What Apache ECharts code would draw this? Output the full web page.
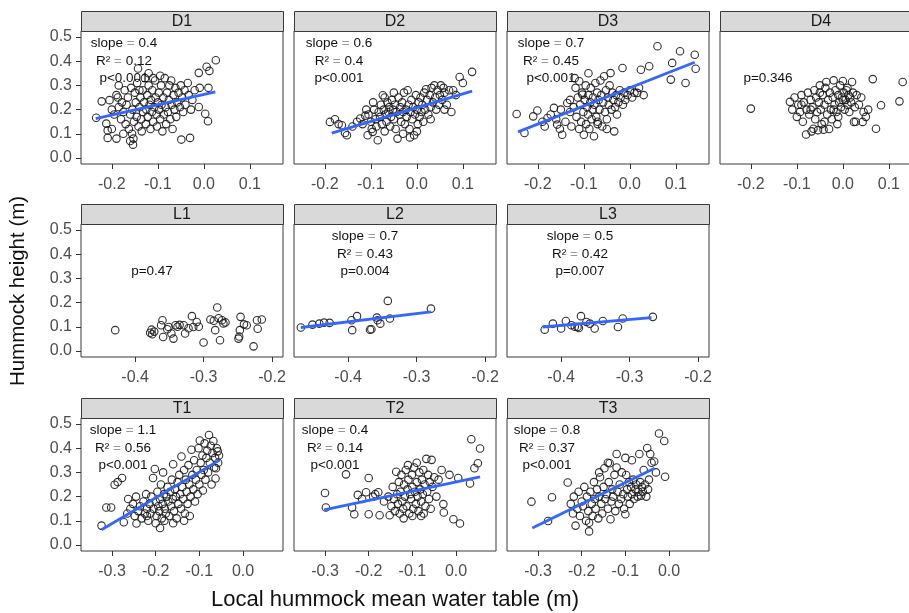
<!DOCTYPE html>
<html><head><meta charset="utf-8">
<script src="https://cdn.jsdelivr.net/npm/echarts@6/dist/echarts.min.js"></script>
<style>html,body{margin:0;padding:0;background:#fff}#c{width:909px;height:613px}</style>
</head><body><div id="c"></div>
<script>
// ---------------- DATA ----------------
const xTitle = 'Local hummock mean water table (m)';
const yTitle = 'Hummock height (m)';
const panelNames = ['D1','D2','D3','D4','L1','L2','L3','T1','T2','T3'];
const xTicksD = [-0.2,-0.1,0.0,0.1];
const xTicksL = [-0.4,-0.3,-0.2];
const xTicksT = [-0.3,-0.2,-0.1,0.0];
const yTicks = [0.0,0.1,0.2,0.3,0.4,0.5];

const d1Points = [[-0.234,0.166],[-0.222,0.234],[-0.205,0.239],[-0.212,0.142],[-0.209,0.114],[-0.209,0.083],[-0.2,0.2],[-0.195,0.18],[-0.19,0.26],[-0.187,0.25],[-0.185,0.21],[-0.18,0.16],[-0.178,0.23],[-0.175,0.19],[-0.172,0.28],[-0.17,0.14],[-0.168,0.22],[-0.165,0.25],[-0.163,0.12],[-0.16,0.18],[-0.158,0.29],[-0.156,0.1],[-0.155,0.2],[-0.154,0.055],[-0.153,0.08],[-0.152,0.15],[-0.15,0.27],[-0.148,0.23],[-0.146,0.17],[-0.145,0.31],[-0.143,0.37],[-0.142,0.13],[-0.14,0.21],[-0.138,0.25],[-0.136,0.16],[-0.135,0.11],[-0.133,0.28],[-0.132,0.19],[-0.13,0.23],[-0.128,0.33],[-0.126,0.14],[-0.125,0.2],[-0.123,0.26],[-0.122,0.17],[-0.12,0.3],[-0.118,0.22],[-0.116,0.12],[-0.115,0.24],[-0.113,0.19],[-0.112,0.28],[-0.11,0.15],[-0.108,0.21],[-0.106,0.32],[-0.105,0.25],[-0.103,0.18],[-0.102,0.13],[-0.1,0.23],[-0.098,0.27],[-0.097,0.2],[-0.095,0.16],[-0.093,0.3],[-0.092,0.22],[-0.09,0.11],[-0.088,0.25],[-0.087,0.18],[-0.085,0.33],[-0.083,0.21],[-0.082,0.14],[-0.08,0.27],[-0.078,0.19],[-0.076,0.24],[-0.075,0.3],[-0.073,0.16],[-0.071,0.32],[-0.07,0.22],[-0.068,0.12],[-0.066,0.26],[-0.064,0.2],[-0.062,0.29],[-0.06,0.17],[-0.058,0.23],[-0.055,0.27],[-0.052,0.21],[-0.05,0.3],[-0.049,0.076],[-0.047,0.25],[-0.045,0.19],[-0.042,0.28],[-0.04,0.22],[-0.035,0.31],[-0.033,0.26],[-0.03,0.083],[-0.028,0.2],[-0.025,0.24],[-0.02,0.28],[-0.011,0.352],[-0.009,0.29],[-0.011,0.211],[0.003,0.183],[0.006,0.377],[0.009,0.152],[0.01,0.29],[0.012,0.36],[0.026,0.404],[-0.19,0.08],[-0.2,0.12],[-0.175,0.1],[-0.16,0.07],[-0.185,0.3],[-0.14,0.28],[-0.12,0.35],[-0.11,0.33],[-0.095,0.34]];
const d2Points = [[-0.189,0.149],[-0.178,0.16],[-0.17,0.14],[-0.163,0.135],[-0.156,0.103],[-0.152,0.094],[-0.14,0.13],[-0.13,0.15],[-0.123,0.163],[-0.118,0.14],[-0.112,0.175],[-0.107,0.094],[-0.105,0.18],[-0.1,0.15],[-0.098,0.12],[-0.096,0.108],[-0.093,0.2],[-0.09,0.16],[-0.088,0.13],[-0.085,0.073],[-0.083,0.19],[-0.08,0.17],[-0.078,0.22],[-0.076,0.14],[-0.074,0.259],[-0.072,0.2],[-0.07,0.11],[-0.068,0.18],[-0.066,0.15],[-0.064,0.23],[-0.062,0.19],[-0.06,0.21],[-0.058,0.13],[-0.056,0.17],[-0.054,0.24],[-0.052,0.2],[-0.05,0.16],[-0.048,0.22],[-0.046,0.12],[-0.044,0.19],[-0.042,0.08],[-0.04,0.25],[-0.038,0.18],[-0.036,0.21],[-0.034,0.15],[-0.032,0.23],[-0.03,0.19],[-0.028,0.27],[-0.026,0.14],[-0.024,0.2],[-0.022,0.17],[-0.02,0.28],[-0.018,0.22],[-0.016,0.12],[-0.014,0.19],[-0.012,0.24],[-0.01,0.16],[-0.008,0.21],[-0.006,0.094],[-0.004,0.18],[-0.002,0.26],[0,0.2],[0.002,0.14],[0.004,0.23],[0.006,0.17],[0.008,0.25],[0.01,0.19],[0.012,0.22],[0.014,0.15],[0.016,0.27],[0.018,0.2],[0.02,0.284],[0.022,0.24],[0.025,0.18],[0.028,0.26],[0.03,0.21],[0.032,0.29],[0.035,0.23],[0.038,0.3],[0.04,0.25],[0.042,0.2],[0.045,0.28],[0.048,0.22],[0.05,0.26],[0.052,0.3],[0.055,0.24],[0.058,0.29],[0.06,0.27],[0.065,0.22],[0.07,0.28],[0.075,0.19],[0.079,0.28],[0.085,0.26],[0.093,0.335],[0.1,0.31],[0.12,0.356],[-0.11,0.2],[-0.095,0.23],[-0.07,0.25],[-0.05,0.27],[-0.03,0.1],[-0.015,0.085],[0.0,0.11],[0.03,0.16],[0.06,0.2]];
const d3Points = [[-0.246,0.182],[-0.229,0.103],[-0.21,0.172],[-0.201,0.196],[-0.19,0.15],[-0.185,0.13],[-0.179,0.165],[-0.172,0.18],[-0.165,0.207],[-0.16,0.16],[-0.158,0.138],[-0.152,0.12],[-0.147,0.096],[-0.14,0.15],[-0.136,0.227],[-0.13,0.19],[-0.127,0.13],[-0.122,0.21],[-0.118,0.29],[-0.116,0.17],[-0.113,0.25],[-0.11,0.317],[-0.108,0.22],[-0.106,0.15],[-0.104,0.27],[-0.103,0.262],[-0.101,0.19],[-0.1,0.096],[-0.098,0.24],[-0.096,0.3],[-0.095,0.14],[-0.093,0.21],[-0.091,0.18],[-0.09,0.26],[-0.088,0.12],[-0.086,0.23],[-0.085,0.29],[-0.083,0.16],[-0.081,0.2],[-0.08,0.25],[-0.078,0.09],[-0.077,0.22],[-0.075,0.31],[-0.073,0.17],[-0.071,0.27],[-0.07,0.14],[-0.068,0.24],[-0.066,0.2],[-0.064,0.32],[-0.062,0.26],[-0.06,0.13],[-0.058,0.23],[-0.056,0.338],[-0.054,0.19],[-0.052,0.28],[-0.05,0.16],[-0.048,0.25],[-0.046,0.22],[-0.044,0.3],[-0.042,0.351],[-0.04,0.2],[-0.038,0.27],[-0.036,0.24],[-0.034,0.11],[-0.032,0.21],[-0.03,0.26],[-0.028,0.18],[-0.025,0.23],[-0.022,0.28],[-0.02,0.25],[-0.016,0.372],[-0.015,0.22],[-0.012,0.27],[-0.01,0.24],[-0.005,0.26],[0,0.28],[0.005,0.25],[0.01,0.27],[0.016,0.269],[0.02,0.29],[0.024,0.365],[0.03,0.26],[0.042,0.379],[0.06,0.462],[0.089,0.324],[0.092,0.393],[0.109,0.441],[0.121,0.31],[0.141,0.427],[0.143,0.369],[-0.12,0.33],[-0.09,0.35],[-0.07,0.15],[-0.05,0.12],[-0.11,0.12],[-0.13,0.24],[-0.15,0.2]];
const d4Points = [[-0.2,0.204],[-0.115,0.232],[-0.11,0.2],[-0.105,0.25],[-0.1,0.17],[-0.097,0.22],[-0.093,0.19],[-0.09,0.26],[-0.087,0.15],[-0.085,0.23],[-0.08,0.097],[-0.079,0.2],[-0.076,0.27],[-0.073,0.18],[-0.07,0.24],[-0.068,0.11],[-0.066,0.21],[-0.064,0.121],[-0.062,0.28],[-0.06,0.16],[-0.058,0.25],[-0.056,0.19],[-0.054,0.115],[-0.052,0.23],[-0.05,0.27],[-0.048,0.2],[-0.046,0.14],[-0.044,0.26],[-0.042,0.117],[-0.04,0.22],[-0.038,0.29],[-0.036,0.314],[-0.034,0.18],[-0.032,0.24],[-0.03,0.12],[-0.028,0.27],[-0.026,0.2],[-0.024,0.16],[-0.022,0.25],[-0.02,0.321],[-0.018,0.22],[-0.016,0.28],[-0.014,0.19],[-0.012,0.14],[-0.01,0.26],[-0.008,0.23],[-0.006,0.3],[-0.004,0.21],[-0.002,0.25],[0,0.318],[0.002,0.27],[0.004,0.2],[0.006,0.24],[0.008,0.28],[0.01,0.22],[0.012,0.26],[0.014,0.19],[0.016,0.25],[0.018,0.23],[0.02,0.314],[0.022,0.27],[0.024,0.149],[0.026,0.21],[0.028,0.15],[0.03,0.26],[0.035,0.22],[0.04,0.25],[0.043,0.149],[0.045,0.19],[0.05,0.17],[0.055,0.2],[0.065,0.326],[0.072,0.121],[0.083,0.218],[0.123,0.234],[0.13,0.314],[-0.07,0.2],[-0.05,0.3],[-0.02,0.2],[0.0,0.24],[0.01,0.29],[-0.01,0.17],[-0.04,0.15],[-0.09,0.22]];
const l1Points = [[-0.429,0.086],[-0.378,0.075],[-0.376,0.088],[-0.375,0.069],[-0.372,0.08],[-0.362,0.106],[-0.36,0.127],[-0.359,0.058],[-0.353,0.09],[-0.351,0.099],[-0.347,0.072],[-0.344,0.051],[-0.341,0.106],[-0.338,0.1],[-0.335,0.108],[-0.329,0.106],[-0.327,0.072],[-0.322,0.094],[-0.317,0.144],[-0.315,0.099],[-0.31,0.12],[-0.307,0.1],[-0.3,0.035],[-0.29,0.13],[-0.285,0.125],[-0.283,0.086],[-0.28,0.18],[-0.278,0.135],[-0.276,0.044],[-0.273,0.127],[-0.271,0.114],[-0.268,0.118],[-0.246,0.141],[-0.247,0.086],[-0.249,0.051],[-0.248,0.06],[-0.241,0.11],[-0.237,0.106],[-0.227,0.019],[-0.222,0.127],[-0.221,0.092],[-0.215,0.13]];
const l2Points = [[-0.469,0.097],[-0.452,0.109],[-0.442,0.113],[-0.435,0.117],[-0.427,0.116],[-0.395,0.127],[-0.394,0.086],[-0.387,0.144],[-0.368,0.088],[-0.366,0.09],[-0.358,0.138],[-0.357,0.127],[-0.353,0.113],[-0.342,0.207],[-0.339,0.134],[-0.279,0.175]];
const l3Points = [[-0.424,0.088],[-0.412,0.113],[-0.4,0.093],[-0.393,0.124],[-0.385,0.106],[-0.38,0.1],[-0.376,0.099],[-0.374,0.095],[-0.371,0.144],[-0.363,0.12],[-0.358,0.113],[-0.351,0.093],[-0.339,0.124],[-0.317,0.099],[-0.31,0.134],[-0.266,0.141]];
const t1Points = [[-0.324,0.08],[-0.313,0.155],[-0.302,0.155],[-0.294,0.249],[-0.287,0.26],[-0.277,0.277],[-0.273,0.094],[-0.265,0.13],[-0.263,0.19],[-0.258,0.15],[-0.252,0.17],[-0.248,0.12],[-0.245,0.2],[-0.244,0.089],[-0.24,0.14],[-0.236,0.16],[-0.232,0.11],[-0.228,0.18],[-0.225,0.13],[-0.222,0.21],[-0.22,0.15],[-0.217,0.1],[-0.214,0.17],[-0.212,0.13],[-0.21,0.2],[-0.206,0.277],[-0.205,0.15],[-0.202,0.314],[-0.2,0.18],[-0.198,0.12],[-0.196,0.22],[-0.194,0.16],[-0.192,0.14],[-0.19,0.19],[-0.188,0.25],[-0.186,0.11],[-0.184,0.17],[-0.183,0.3],[-0.181,0.21],[-0.179,0.15],[-0.177,0.13],[-0.175,0.2],[-0.173,0.24],[-0.171,0.18],[-0.169,0.12],[-0.167,0.22],[-0.165,0.16],[-0.163,0.27],[-0.161,0.19],[-0.16,0.334],[-0.158,0.14],[-0.156,0.23],[-0.154,0.2],[-0.152,0.11],[-0.15,0.26],[-0.148,0.17],[-0.146,0.29],[-0.144,0.21],[-0.142,0.15],[-0.141,0.366],[-0.139,0.24],[-0.137,0.19],[-0.135,0.31],[-0.133,0.13],[-0.131,0.27],[-0.129,0.22],[-0.127,0.17],[-0.125,0.33],[-0.123,0.25],[-0.122,0.12],[-0.12,0.2],[-0.118,0.394],[-0.116,0.29],[-0.114,0.23],[-0.112,0.35],[-0.11,0.18],[-0.108,0.27],[-0.106,0.31],[-0.104,0.21],[-0.102,0.4],[-0.1,0.25],[-0.099,0.432],[-0.097,0.34],[-0.095,0.29],[-0.093,0.37],[-0.092,0.225],[-0.09,0.31],[-0.088,0.42],[-0.086,0.27],[-0.084,0.36],[-0.082,0.39],[-0.08,0.3],[-0.078,0.455],[-0.076,0.34],[-0.074,0.41],[-0.072,0.25],[-0.07,0.38],[-0.068,0.43],[-0.066,0.32],[-0.064,0.36],[-0.063,0.275],[-0.062,0.317],[-0.06,0.4],[-0.058,0.387],[-0.057,0.34],[-0.055,0.37],[-0.135,0.1],[-0.16,0.09],[-0.18,0.1],[-0.2,0.09],[-0.22,0.12],[-0.19,0.07]];
const t2Points = [[-0.3,0.215],[-0.298,0.155],[-0.252,0.292],[-0.238,0.155],[-0.233,0.127],[-0.225,0.207],[-0.215,0.19],[-0.206,0.218],[-0.2,0.277],[-0.2,0.127],[-0.19,0.2],[-0.185,0.21],[-0.178,0.218],[-0.175,0.123],[-0.165,0.18],[-0.155,0.2],[-0.152,0.123],[-0.148,0.16],[-0.145,0.24],[-0.142,0.19],[-0.14,0.14],[-0.137,0.303],[-0.135,0.21],[-0.133,0.17],[-0.131,0.26],[-0.129,0.13],[-0.127,0.22],[-0.125,0.29],[-0.123,0.18],[-0.121,0.15],[-0.119,0.25],[-0.117,0.2],[-0.115,0.31],[-0.113,0.16],[-0.111,0.23],[-0.109,0.27],[-0.107,0.13],[-0.105,0.21],[-0.103,0.19],[-0.101,0.29],[-0.1,0.24],[-0.098,0.15],[-0.096,0.32],[-0.094,0.22],[-0.092,0.17],[-0.09,0.26],[-0.088,0.2],[-0.086,0.14],[-0.084,0.3],[-0.082,0.23],[-0.08,0.18],[-0.078,0.27],[-0.076,0.21],[-0.074,0.13],[-0.072,0.25],[-0.07,0.16],[-0.068,0.356],[-0.066,0.22],[-0.064,0.29],[-0.062,0.19],[-0.06,0.26],[-0.058,0.15],[-0.056,0.352],[-0.054,0.24],[-0.05,0.28],[-0.045,0.2],[-0.04,0.27],[-0.033,0.31],[-0.029,0.169],[-0.028,0.134],[-0.015,0.29],[-0.006,0.106],[0.005,0.277],[0.009,0.089],[0.032,0.254],[0.042,0.317],[0.05,0.338],[0.035,0.437],[0.055,0.399],[-0.11,0.33],[-0.09,0.34],[-0.075,0.31],[-0.12,0.11],[-0.1,0.12],[-0.08,0.12]];
const t3Points = [[-0.315,0.179],[-0.277,0.099],[-0.268,0.197],[-0.232,0.258],[-0.225,0.17],[-0.22,0.13],[-0.218,0.2],[-0.214,0.08],[-0.21,0.15],[-0.207,0.22],[-0.204,0.12],[-0.2,0.18],[-0.197,0.16],[-0.194,0.24],[-0.19,0.1],[-0.188,0.2],[-0.185,0.14],[-0.183,0.056],[-0.183,0.092],[-0.18,0.22],[-0.177,0.17],[-0.175,0.12],[-0.172,0.26],[-0.17,0.19],[-0.168,0.15],[-0.165,0.23],[-0.162,0.11],[-0.16,0.2],[-0.158,0.28],[-0.155,0.17],[-0.153,0.13],[-0.15,0.24],[-0.148,0.317],[-0.146,0.19],[-0.143,0.21],[-0.14,0.15],[-0.138,0.26],[-0.136,0.338],[-0.134,0.106],[-0.132,0.18],[-0.13,0.23],[-0.128,0.2],[-0.125,0.29],[-0.123,0.14],[-0.12,0.376],[-0.118,0.22],[-0.115,0.17],[-0.113,0.25],[-0.11,0.19],[-0.108,0.3],[-0.105,0.21],[-0.103,0.15],[-0.1,0.127],[-0.098,0.289],[-0.096,0.23],[-0.094,0.2],[-0.092,0.26],[-0.09,0.17],[-0.087,0.24],[-0.085,0.21],[-0.082,0.27],[-0.08,0.19],[-0.077,0.23],[-0.075,0.25],[-0.072,0.2],[-0.07,0.22],[-0.068,0.376],[-0.066,0.26],[-0.064,0.204],[-0.062,0.24],[-0.06,0.22],[-0.058,0.31],[-0.055,0.25],[-0.052,0.2],[-0.05,0.401],[-0.048,0.23],[-0.046,0.27],[-0.043,0.376],[-0.04,0.34],[-0.034,0.345],[-0.03,0.3],[-0.023,0.461],[-0.011,0.43],[-0.009,0.282],[-0.16,0.3],[-0.14,0.34],[-0.12,0.32],[-0.1,0.36],[-0.085,0.35]];

// fitted regression lines (start and end points)
const d1Fit = [[-0.235,0.163],[0.025,0.273]];
const d2Fit = [[-0.185,0.103],[0.12,0.276]];
const d3Fit = [[-0.243,0.108],[0.141,0.396]];
const l2Fit = [[-0.469,0.097],[-0.279,0.162]];
const l3Fit = [[-0.427,0.099],[-0.268,0.138]];
const t1Fit = [[-0.324,0.063],[-0.053,0.352]];
const t2Fit = [[-0.302,0.145],[0.055,0.282]];
const t3Fit = [[-0.313,0.07],[-0.033,0.317]];

// statistics text
const d1Stats = ['slope = 0.4','R\u00B2 = 0.12','p<0.001'];
const d2Stats = ['slope = 0.6','R\u00B2 = 0.4','p<0.001'];
const d3Stats = ['slope = 0.7','R\u00B2 = 0.45','p<0.001'];
const d4Stats = [null,null,'p=0.346'];
const l1Stats = [null,null,'p=0.47'];
const l2Stats = ['slope = 0.7','R\u00B2 = 0.43','p=0.004'];
const l3Stats = ['slope = 0.5','R\u00B2 = 0.42','p=0.007'];
const t1Stats = ['slope = 1.1','R\u00B2 = 0.56','p<0.001'];
const t2Stats = ['slope = 0.4','R\u00B2 = 0.14','p<0.001'];
const t3Stats = ['slope = 0.8','R\u00B2 = 0.37','p<0.001'];

// ---------------- LAYOUT ----------------
const FONT = '"Liberation Sans", Arial, sans-serif';
const rowTop = [31, 224, 418];
const colLeft = [81, 294, 507, 720];
const plotW = 202, plotH = 133, stripH = 20;
const rowX = [
  {min:-0.267, max:0.172, ticks:xTicksD},
  {min:-0.479, max:-0.184, ticks:xTicksL},
  {min:-0.371, max:0.0915, ticks:xTicksT}
];
const yRange = {min:-0.025, max:0.525};
const annotDY = [12, 30, 47];

const panels = [
  {pts:d1Points, fit:d1Fit, stats:d1Stats, row:0, col:0, ax:43},
  {pts:d2Points, fit:d2Fit, stats:d2Stats, row:0, col:1, ax:45},
  {pts:d3Points, fit:d3Fit, stats:d3Stats, row:0, col:2, ax:44},
  {pts:d4Points, fit:null,  stats:d4Stats, row:0, col:3, ax:48},
  {pts:l1Points, fit:null,  stats:l1Stats, row:1, col:0, ax:71},
  {pts:l2Points, fit:l2Fit, stats:l2Stats, row:1, col:1, ax:71},
  {pts:l3Points, fit:l3Fit, stats:l3Stats, row:1, col:2, ax:73},
  {pts:t1Points, fit:t1Fit, stats:t1Stats, row:2, col:0, ax:42},
  {pts:t2Points, fit:t2Fit, stats:t2Stats, row:2, col:1, ax:41},
  {pts:t3Points, fit:t3Fit, stats:t3Stats, row:2, col:2, ax:40}
];

const fmt = v => (Math.abs(v) < 1e-9 ? 0 : v).toFixed(1);

const grid = [], xAxis = [], yAxis = [], series = [], graphic = [];
panels.forEach((p, i) => {
  const left = colLeft[p.col], top = rowTop[p.row];
  const rx = rowX[p.row];
  grid.push({left, top, width: plotW, height: plotH, show: true,
    backgroundColor: '#fff', borderColor: '#3a3a3a', borderWidth: 1,
    containLabel: false, outerBoundsMode: 'none'});
  xAxis.push({gridIndex: i, type: 'value', min: rx.min, max: rx.max, position: 'bottom',
    axisLine: {show: false, onZero: false}, splitLine: {show: false},
    axisTick: {show: true, length: 5, customValues: rx.ticks, lineStyle: {color: '#333', width: 1}},
    axisLabel: {show: true, customValues: rx.ticks, formatter: fmt, color: '#4d4d4d',
      fontSize: 16, fontFamily: FONT, margin: 13}});
  const first = p.col === 0;
  yAxis.push({gridIndex: i, type: 'value', min: yRange.min, max: yRange.max, position: 'left',
    axisLine: {show: false, onZero: false}, splitLine: {show: false},
    axisTick: {show: first, length: 5, customValues: yTicks, lineStyle: {color: '#333', width: 1}},
    axisLabel: {show: first, customValues: yTicks, formatter: fmt, color: '#4d4d4d',
      fontSize: 16, fontFamily: FONT, margin: 9}});
  series.push({type: 'scatter', xAxisIndex: i, yAxisIndex: i, data: p.pts,
    symbol: 'circle', symbolSize: 7.5, silent: true, z: 2,
    itemStyle: {color: 'rgba(0,0,0,0)', borderColor: '#1a1a1a', borderWidth: 1.1, opacity: 0.9}});
  if (p.fit) {
    series.push({type: 'line', xAxisIndex: i, yAxisIndex: i, data: p.fit,
      showSymbol: false, silent: true, z: 3,
      lineStyle: {color: '#3366FF', width: 2.8}});
  }
  // strip
  graphic.push({type: 'rect', shape: {x: left + 0.5, y: top - stripH + 0.5, width: plotW, height: stripH},
    style: {fill: '#d9d9d9', stroke: '#3a3a3a', lineWidth: 1}, silent: true, z: 10});
  graphic.push({type: 'text', x: left + plotW / 2, y: top - stripH / 2 + 1,
    style: {text: panelNames[i], fill: '#1a1a1a', font: '16px ' + FONT,
      textAlign: 'center', textVerticalAlign: 'middle'}, silent: true, z: 11});
  // stats text
  p.stats.forEach((s, k) => {
    if (!s) return;
    let style;
    if (s.indexOf(' = ') >= 0) {
      const parts = s.split(' = ');
      style = {text: '{t|' + parts[0] + ' }{e|=}{t| ' + parts[1] + '}',
        rich: {t: {fill: '#111', font: '13.5px ' + FONT}, e: {fill: '#9a9a9a', font: '13.5px ' + FONT}}};
    } else {
      style = {text: s, fill: '#111', font: '13.5px ' + FONT};
    }
    style.textAlign = 'center';
    style.textVerticalAlign = 'middle';
    graphic.push({type: 'text', x: left + p.ax, y: top + annotDY[k], style, silent: true, z: 12});
  });
});

graphic.push({type: 'text', x: 395, y: 600,
  style: {text: xTitle, fill: '#111', font: '22px ' + FONT, textAlign: 'center', textVerticalAlign: 'middle'}, silent: true});
graphic.push({type: 'text', x: 18, y: 291, rotation: Math.PI / 2,
  style: {text: yTitle, fill: '#111', font: '20.5px ' + FONT, textAlign: 'center', textVerticalAlign: 'middle'}, silent: true});

const chart = echarts.init(document.getElementById('c'), null, {renderer: 'canvas'});
chart.setOption({animation: false, backgroundColor: '#fff', grid, xAxis, yAxis, series, graphic});
</script></body></html>
